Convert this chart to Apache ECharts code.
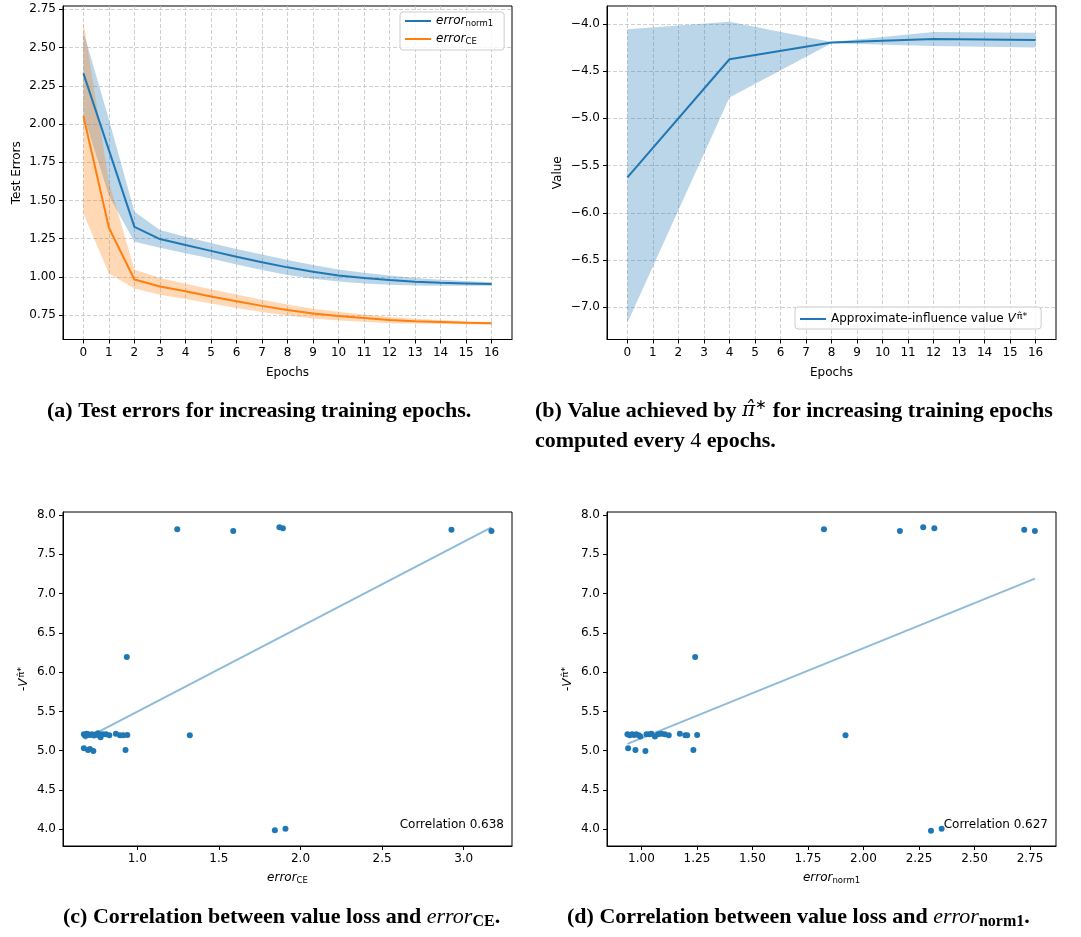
<!DOCTYPE html>
<html>
<head>
<meta charset="utf-8">
<script src="https://cdn.jsdelivr.net/npm/echarts@6/dist/echarts.min.js"></script>
<style>
html,body{margin:0;padding:0;background:#fff;}
#chart{width:1081px;height:937px;}
</style>
</head>
<body>
<div id="chart"></div>
<script>
// ---------- Data ----------
const epochs = [0,1,2,3,4,5,6,7,8,9,10,11,12,13,14,15,16];
const normMean = [2.331,1.829,1.327,1.247,1.208,1.170,1.131,1.096,1.062,1.033,1.009,0.992,0.979,0.968,0.961,0.957,0.953];
const normLo   = [2.060,1.530,1.230,1.190,1.155,1.120,1.080,1.045,1.012,0.988,0.970,0.957,0.949,0.943,0.941,0.941,0.941];
const normHi   = [2.604,2.030,1.426,1.306,1.262,1.222,1.182,1.146,1.110,1.078,1.048,1.027,1.009,0.993,0.981,0.973,0.965];
const ceMean   = [2.052,1.321,0.983,0.937,0.905,0.872,0.840,0.810,0.783,0.760,0.743,0.730,0.717,0.710,0.705,0.700,0.696];
const ceLo     = [1.415,1.022,0.924,0.882,0.855,0.825,0.796,0.770,0.747,0.728,0.715,0.706,0.697,0.694,0.692,0.690,0.688];
const ceHi     = [2.670,1.620,1.048,0.992,0.955,0.919,0.884,0.850,0.819,0.792,0.771,0.754,0.737,0.726,0.718,0.710,0.704];

const valEpochs = [0,4,8,12,16];
const valMean = [-5.625,-4.374,-4.197,-4.159,-4.169];
const valLo   = [-7.165,-4.779,-4.205,-4.233,-4.250];
const valHi   = [-4.056,-3.976,-4.190,-4.085,-4.092];

const cErrCE = [1.245,1.588,1.871,1.892,2.925,3.170,0.936,1.322,1.843,1.908,
  0.673,0.698,0.710,0.731,0.928,
  0.673,0.680,0.686,0.690,0.698,0.710,0.722,0.735,0.745,0.759,0.760,0.775,0.788,0.808,0.829,0.869,0.894,0.914,0.939];
const cLoss  = [7.818,7.796,7.843,7.830,7.813,7.796,6.193,5.196,3.987,4.008,
  5.031,5.010,5.020,4.997,5.010,
  5.209,5.190,5.196,5.215,5.209,5.200,5.209,5.192,5.205,5.222,5.200,5.171,5.209,5.209,5.196,5.215,5.196,5.196,5.200];
const cFitX = [0.677,3.170];
const cFitY = [5.146,7.843];

const dErrNorm = [1.822,2.164,2.269,2.319,2.724,2.772,1.242,1.919,2.304,2.352,
  0.940,0.973,1.018,1.234,
  0.937,0.947,0.958,0.967,0.977,0.988,0.995,1.023,1.037,1.045,1.061,1.075,1.090,1.105,1.123,1.173,1.198,1.206,1.251];
const dLoss    = [7.818,7.796,7.843,7.830,7.813,7.796,6.193,5.196,3.982,4.008,
  5.031,5.010,4.997,5.009,
  5.209,5.196,5.209,5.200,5.209,5.196,5.180,5.209,5.209,5.215,5.180,5.209,5.215,5.209,5.196,5.215,5.196,5.196,5.200];
const dFitX = [0.937,2.772];
const dFitY = [5.086,7.190];

const aYTicks = [0.75,1.00,1.25,1.50,1.75,2.00,2.25,2.50,2.75];
const bYTicks = [-7.0,-6.5,-6.0,-5.5,-5.0,-4.5,-4.0];
const cXTicks = [1.0,1.5,2.0,2.5,3.0];
const dXTicks = [1.00,1.25,1.50,1.75,2.00,2.25,2.50,2.75];
const lossTicks = [4.0,4.5,5.0,5.5,6.0,6.5,7.0,7.5,8.0];

// ---------- Helpers ----------
const FONT = 'DejaVu Sans';
const BLUE = '#1f77b4', ORANGE = '#ff7f0e';
const subRich = {
  i: {fontFamily: FONT, fontStyle: 'italic', fontSize: 12, lineHeight: 14, color: '#000'},
  s: {fontFamily: FONT, fontSize: 8.5, lineHeight: 9, verticalAlign: 'bottom', color: '#000'},
  v: {fontFamily: FONT, fontStyle: 'italic', fontSize: 12, lineHeight: 14, color: '#000'},
  p: {fontFamily: FONT, fontSize: 9.5, lineHeight: 8, verticalAlign: 'top', color: '#000', padding: [0, 0, 0, 1]},
  t: {fontFamily: FONT, fontSize: 12, lineHeight: 14, color: '#000'}
};

function axis(o) {
  return {
    type: 'value', gridIndex: o.grid, min: o.min, max: o.max,
    name: o.name || '', nameLocation: 'middle', nameGap: o.nameGap || 25,
    nameTextStyle: {fontFamily: FONT, fontSize: 12, color: '#000', rich: subRich},
    axisLine: {show: true, onZero: false, lineStyle: {color: '#000', width: 1}},
    axisTick: {show: true, length: 4, customValues: o.ticks, lineStyle: {color: '#000', width: 1}},
    axisLabel: {customValues: o.ticks, margin: 7, fontFamily: FONT, fontSize: 12, color: '#000',
      formatter: o.fmt},
    splitLine: {show: !!o.grid2, lineStyle: {type: [4, 2], color: '#c4c4c4', width: 0.8}}
  };
}

function band(xi, yi, xs, lo, hi, color, z) {
  return {
    type: 'custom', xAxisIndex: xi, yAxisIndex: yi, silent: true, z: z,
    data: xs.map((x, i) => [x, lo[i], hi[i]]),
    encode: {x: 0, y: [1, 2]},
    renderItem: function (params, api) {
      if (params.dataIndex !== 0) return null;
      const pts = [];
      for (let i = 0; i < xs.length; i++) pts.push(api.coord([xs[i], hi[i]]));
      for (let i = xs.length - 1; i >= 0; i--) pts.push(api.coord([xs[i], lo[i]]));
      return {type: 'polygon', shape: {points: pts}, style: {fill: color, stroke: null}};
    }
  };
}

function pairs(xs, ys) { return xs.map((x, i) => [x, ys[i]]); }
const fmtMinus = d => v => (v < 0 ? '\u2212' : '') + Math.abs(v).toFixed(d);

const chart = echarts.init(document.getElementById('chart'), null, {renderer: 'canvas'});

const CAP = 22;
const capBase = {fontFamily: 'Liberation Serif', fontWeight: 'bold', fontSize: CAP, fill: '#000'};
const capRich = {
  m: {fontFamily: 'Liberation Serif', fontStyle: 'italic', fontWeight: 'normal', fontSize: CAP, fill: '#000'},
  pi: {fontFamily: 'DejaVu Serif', fontStyle: 'italic', fontWeight: 'normal', fontSize: CAP - 2, fill: '#000'},
  n: {fontFamily: 'Liberation Serif', fontWeight: 'normal', fontSize: CAP, fill: '#000'},
  sup: {fontFamily: 'Liberation Serif', fontWeight: 'normal', fontSize: 14, lineHeight: 14, verticalAlign: 'top', fill: '#000'},
  sub: {fontFamily: 'Liberation Serif', fontWeight: 'bold', fontSize: 16, lineHeight: 13, verticalAlign: 'bottom', fill: '#000'}
};
function caption(x, y, text) {
  return {type: 'text', x: x, y: y, z: 100,
    style: Object.assign({text: text, rich: capRich, verticalAlign: 'middle', align: 'left', lineHeight: 26}, capBase)};
}

const legendBase = {
  orient: 'vertical', itemWidth: 26, itemHeight: 2, itemGap: 5, itemTextGap: 10, icon: 'rect',
  backgroundColor: 'rgba(255,255,255,0.8)', borderColor: '#cccccc', borderWidth: 1, borderRadius: 3,
  selectedMode: false, textStyle: {fontFamily: FONT, fontSize: 12, color: '#000', rich: subRich}
};

const option = {
  animation: false,
  backgroundColor: '#fff',
  grid: [
    {left: 63, top: 6, width: 449, height: 333.5, show: true, borderColor: '#000', borderWidth: 1},
    {left: 607, top: 6, width: 449, height: 333.5, show: true, borderColor: '#000', borderWidth: 1},
    {left: 63, top: 512, width: 449, height: 334, show: true, borderColor: '#000', borderWidth: 1},
    {left: 607, top: 512, width: 449, height: 334, show: true, borderColor: '#000', borderWidth: 1}
  ],
  xAxis: [
    axis({grid: 0, min: -0.8, max: 16.8, ticks: epochs, fmt: v => String(v), grid2: true, name: 'Epochs', nameGap: 27}),
    axis({grid: 1, min: -0.8, max: 16.8, ticks: epochs, fmt: v => String(v), grid2: true, name: 'Epochs', nameGap: 27}),
    axis({grid: 2, min: 0.545, max: 3.296, ticks: cXTicks, fmt: v => v.toFixed(1), name: '{i|error}{s|CE}', nameGap: 25}),
    axis({grid: 3, min: 0.845, max: 2.867, ticks: dXTicks, fmt: v => v.toFixed(2), name: '{i|error}{s|norm1}', nameGap: 25})
  ],
  yAxis: [
    axis({grid: 0, min: 0.590, max: 2.772, ticks: aYTicks, fmt: v => v.toFixed(2), grid2: true, name: 'Test Errors', nameGap: 40}),
    axis({grid: 1, min: -7.342, max: -3.810, ticks: bYTicks, fmt: fmtMinus(1), grid2: true, name: 'Value', nameGap: 43}),
    axis({grid: 2, min: 3.787, max: 8.038, ticks: lossTicks, fmt: v => v.toFixed(1), name: '{t|-}{v|V}{p|π\u0302*}', nameGap: 32}),
    axis({grid: 3, min: 3.787, max: 8.038, ticks: lossTicks, fmt: v => v.toFixed(1), name: '{t|-}{v|V}{p|π\u0302*}', nameGap: 32})
  ],
  legend: [
    Object.assign({}, legendBase, {left: 400, top: 12, padding: [3, 11, 4, 5],
      data: ['error_norm1', 'error_CE'],
      formatter: n => n === 'error_norm1' ? '{i|error}{s|norm1}' : '{i|error}{s|CE}'}),
    Object.assign({}, legendBase, {left: 795, top: 307, padding: [5, 14, 4, 5],
      data: ['value'],
      formatter: () => '{t|Approximate-influence value }{v|V}{p|π\u0302*}'})
  ],
  series: [
    band(0, 0, epochs, normLo, normHi, 'rgba(31,119,180,0.3)', 1),
    band(0, 0, epochs, ceLo, ceHi, 'rgba(255,127,14,0.3)', 1),
    {name: 'error_norm1', type: 'line', xAxisIndex: 0, yAxisIndex: 0, data: pairs(epochs, normMean),
     symbol: 'none', lineStyle: {color: BLUE, width: 2}, itemStyle: {color: BLUE}, z: 3},
    {name: 'error_CE', type: 'line', xAxisIndex: 0, yAxisIndex: 0, data: pairs(epochs, ceMean),
     symbol: 'none', lineStyle: {color: ORANGE, width: 2}, itemStyle: {color: ORANGE}, z: 3},
    band(1, 1, valEpochs, valLo, valHi, 'rgba(31,119,180,0.3)', 1),
    {name: 'value', type: 'line', xAxisIndex: 1, yAxisIndex: 1, data: pairs(valEpochs, valMean),
     symbol: 'none', lineStyle: {color: BLUE, width: 2}, itemStyle: {color: BLUE}, z: 3},
    {type: 'line', xAxisIndex: 2, yAxisIndex: 2, data: pairs(cFitX, cFitY), symbol: 'none', silent: true,
     lineStyle: {color: 'rgba(31,119,180,0.5)', width: 2}, z: 2},
    {type: 'scatter', xAxisIndex: 2, yAxisIndex: 2, data: pairs(cErrCE, cLoss), symbolSize: 6,
     itemStyle: {color: BLUE, opacity: 1}, z: 3},
    {type: 'line', xAxisIndex: 3, yAxisIndex: 3, data: pairs(dFitX, dFitY), symbol: 'none', silent: true,
     lineStyle: {color: 'rgba(31,119,180,0.5)', width: 2}, z: 2},
    {type: 'scatter', xAxisIndex: 3, yAxisIndex: 3, data: pairs(dErrNorm, dLoss), symbolSize: 6,
     itemStyle: {color: BLUE, opacity: 1}, z: 3}
  ],
  graphic: [
    {type: 'text', x: 504, y: 825, z: 100, style: {text: 'Correlation 0.638', fontFamily: FONT, fontSize: 12, fill: '#000', align: 'right', verticalAlign: 'middle'}},
    {type: 'text', x: 1048, y: 825, z: 100, style: {text: 'Correlation 0.627', fontFamily: FONT, fontSize: 12, fill: '#000', align: 'right', verticalAlign: 'middle'}},
    caption(47, 411, '(a) Test errors for increasing training epochs.'),
    caption(535, 411, '(b) Value achieved by {pi|π\u0302}{sup|∗} for increasing training epochs'),
    caption(535, 441, 'computed every {n|4} epochs.'),
    caption(63, 917, '(c) Correlation between value loss and {m|error}{sub|CE}.'),
    caption(567, 917, '(d) Correlation between value loss and {m|error}{sub|norm1}.')
  ]
};
chart.setOption(option);
</script>
</body>
</html>
